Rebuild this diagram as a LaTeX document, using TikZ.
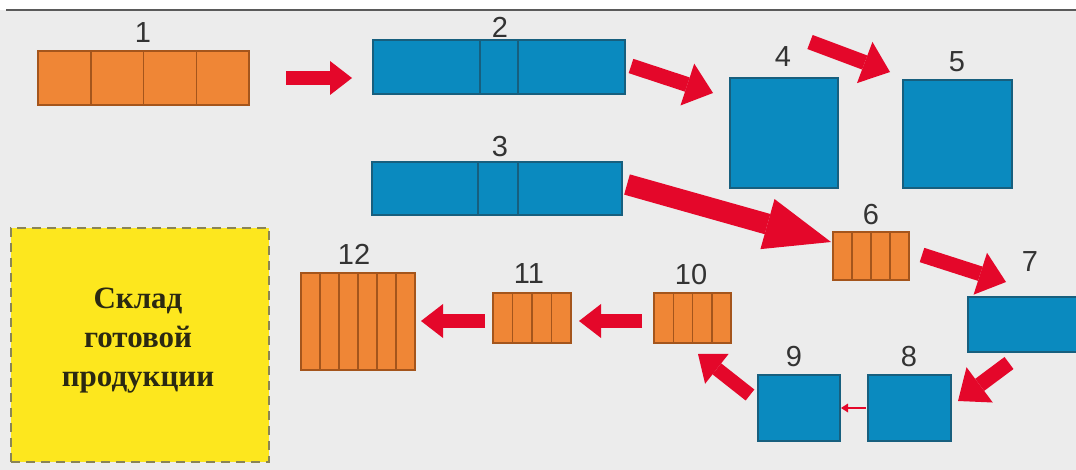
\documentclass[tikz,border=0pt]{standalone}
\usepackage{fontspec}
\setmainfont{Liberation Sans}
\newfontfamily\serifcyr{Liberation Serif}
\usetikzlibrary{arrows.meta,calc}
\definecolor{bg}{HTML}{ECECEC}
\definecolor{org}{HTML}{EF8636}
\definecolor{orgdk}{HTML}{A4551C}
\definecolor{blu}{HTML}{0A8ABF}
\definecolor{bludk}{HTML}{175F7E}
\definecolor{arred}{HTML}{E4072A}
\definecolor{ylw}{HTML}{FDE71E}
\definecolor{ylwdk}{HTML}{8A8455}
\definecolor{lblc}{HTML}{333333}
\definecolor{txtc}{HTML}{2B2912}
\definecolor{topln}{HTML}{5A5A5A}
\begin{document}
\begin{tikzpicture}[x=1pt,y=-1pt,
  box/.style={draw, line width=1.3pt, inner sep=0pt, outer sep=0pt, anchor=north west},
  obox/.style={box, fill=org, draw=orgdk},
  bbox/.style={box, fill=blu, draw=bludk},
  odiv/.style={draw=orgdk, line width=1.5pt},
  bdiv/.style={draw=bludk, line width=1.4pt},
  whbox/.style={box, fill=ylw, draw=ylwdk, line width=2pt, dash pattern=on 9pt off 6pt},
  whtxt/.style={text=txtc, font=\serifcyr\bfseries\fontsize{31}{39}\selectfont, align=center, inner sep=0pt},
  lbl/.style={text=lblc, font=\fontsize{29}{29}\selectfont, inner sep=0pt},
  rarr/.style={draw=arred, line width=14pt, -{Triangle[length=22pt,width=34pt,line width=0pt]}},
  rarrm/.style={draw=arred, line width=14pt, -{Triangle[length=24pt,width=38pt,line width=0pt]}},
  rarrb/.style={draw=arred, line width=15pt, -{Triangle[length=27pt,width=44pt,line width=0pt]}},
  rarrh/.style={draw=arred, line width=21pt, -{Triangle[length=66pt,width=52pt,line width=0pt]}},
  rarrt/.style={draw=arred, line width=2.5pt, -{Triangle[length=7pt,width=9pt,line width=0pt]}}
]
\useasboundingbox (0,0) rectangle (1076,470);
\clip (0,0) rectangle (1076,470);
\fill[white] (0,0) rectangle (1076,10);
\fill[bg] (0,10) rectangle (1076,470);
\draw[topln, line width=1.5pt] (6,10) -- (1076,10);

% boxes
\node[obox, minimum width=211pt, minimum height=54pt] (b1) at (38,51) {};
\node[bbox, minimum width=252pt, minimum height=54pt] (b2) at (373,40) {};
\node[bbox, minimum width=250pt, minimum height=53pt] (b3) at (372,162) {};
\node[bbox, minimum width=108pt, minimum height=110pt] (b4) at (730,78) {};
\node[bbox, minimum width=109pt, minimum height=108pt] (b5) at (903,80) {};
\node[obox, minimum width=76pt, minimum height=48pt] (b6) at (833,232) {};
\node[bbox, minimum width=112pt, minimum height=55pt] (b7) at (968,297) {};
\node[bbox, minimum width=83pt, minimum height=66pt] (b8) at (868,375) {};
\node[bbox, minimum width=82pt, minimum height=66pt] (b9) at (758,375) {};
\node[obox, minimum width=77pt, minimum height=50pt] (b10) at (654,293) {};
\node[obox, minimum width=78pt, minimum height=50pt] (b11) at (493,293) {};
\node[obox, minimum width=114pt, minimum height=97pt] (b12) at (301,273) {};

% dividers
\foreach \n in {b1,b6,b10,b11}{
  \foreach \f in {0.25,0.5,0.75}
    \draw[odiv] ($(\n.north west)!\f!(\n.north east)$) -- ($(\n.south west)!\f!(\n.south east)$);
}
\foreach \k in {1,...,5}
  \draw[odiv] ($(b12.north west)!\k/6!(b12.north east)$) -- ($(b12.south west)!\k/6!(b12.south east)$);
\foreach \f in {0.4246,0.575}
  \draw[bdiv] ($(b2.north west)!\f!(b2.north east)$) -- ($(b2.south west)!\f!(b2.south east)$);
\foreach \f in {0.424,0.584}
  \draw[bdiv] ($(b3.north west)!\f!(b3.north east)$) -- ($(b3.south west)!\f!(b3.south east)$);

% warehouse
\node[whbox, minimum width=258pt, minimum height=234pt] (wh) at (11,228) {};
\node[whtxt] (whtext) at ($(wh.center)+(-2,-4)$) {Склад\\готовой\\продукции};

% labels
\node[lbl] (l1) at (143,33) {1};
\node[lbl] (l2) at (500,27) {2};
\node[lbl] (l3) at (500,147) {3};
\node[lbl] (l4) at (783,57) {4};
\node[lbl] (l5) at (957,62) {5};
\node[lbl] (l6) at (871,215) {6};
\node[lbl] (l7) at (1030,262) {7};
\node[lbl] (l8) at (909,357) {8};
\node[lbl] (l9) at (794,357) {9};
\node[lbl] (l10) at (691,275) {10};
\node[lbl] (l11) at (529,274) {11};
\node[lbl] (l12) at (354,254) {12};

% arrows
\draw[rarr] ($(b1.east)+(37,0)$) -- ($(b2.west |- b1.east)+(-21,0)$);
\draw[rarrb] ($(b2.east)+(6,-1)$) -- ($(b4.north west)+(-17,15)$);
\draw[rarrb] ($(b4.north east)+(-28,-36)$) -- ($(b5.north west)+(-13,-8)$);
\draw[rarrh] ($(b3.east)+(5,-4)$) -- ($(b6.west)+(-2,-14)$);
\draw[rarrb] ($(b6.east)+(13,-1)$) -- ($(b7.north west)+(38,-15)$);
\draw[rarrb] ($(b7.south west)+(41,11)$) -- ($(b8.east)+(7,-7)$);
\draw[rarrt, shorten <=2pt, shorten >=1pt] (b8.west) -- (b9.east);
\draw[rarrm] ($(b9.north west)+(-8,20)$) -- ($(b10.south east)+(-33,11)$);
\draw[rarr] ($(b10.west)+(-12,3)$) -- ($(b11.east)+(8,3)$);
\draw[rarr] ($(b11.west)+(-8,3)$) -- ($(b12.east |- b11.west)+(6,3)$);
\end{tikzpicture}
\end{document}
